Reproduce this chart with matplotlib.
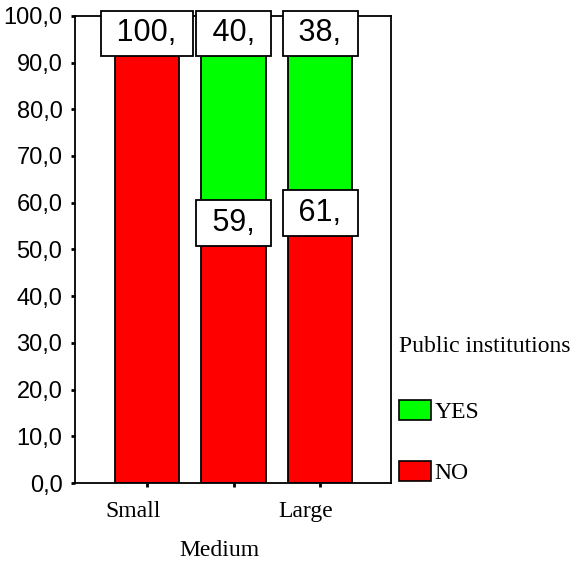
import matplotlib
matplotlib.use("Agg")
import matplotlib.pyplot as plt
import matplotlib.transforms as mtransforms
from matplotlib.patches import Patch
from matplotlib.ticker import FuncFormatter
import numpy as np

categories = ["Small", "Medium", "Large"]
no_pct = [100.0, 59.4, 61.5]
yes_pct = [0.0, 40.6, 38.5]
series_labels = ["YES", "NO"]
legend_title = "Public institutions"

RED = "#ff0000"
GREEN = "#00ff00"
SANS = "Liberation Sans"
SERIF = "Liberation Serif"

fig = plt.figure(figsize=(5.72, 5.65), dpi=100)
ax = fig.add_axes([0.131, 0.145, 0.553, 0.827])

x = np.arange(len(categories))
no = np.array(no_pct)
yes = np.array(yes_pct)
w = 0.74

ax.bar(x, no, width=w, color=RED, edgecolor="black", linewidth=1.3, zorder=2)
ax.bar(x, yes, width=w, bottom=no, color=GREEN, edgecolor="black", linewidth=1.3, zorder=2)

ax.set_xlim(-0.83, 2.82)
ax.set_ylim(0, 100)


# value boxes, SPSS style (truncated labels)
def box_label(xv, top, val):
    ax.annotate(f" {int(val)}, ", xy=(xv, top), xytext=(0, -12.5), textcoords="offset points",
                ha="center", va="center", fontsize=22, family=SANS, zorder=5,
                bbox=dict(boxstyle="square,pad=0.25", fc="white", ec="black", lw=1.3),
                annotation_clip=False)


for i in range(len(categories)):
    box_label(x[i], no[i], no[i])
    if yes[i] > 0:
        box_label(x[i], no[i] + yes[i], yes[i])

ax.set_yticks(np.arange(0, 101, 10))
ax.yaxis.set_major_formatter(FuncFormatter(lambda v, p: f"{v:.1f}".replace(".", ",")))
for lab in ax.get_yticklabels():
    lab.set_fontfamily(SANS)
    lab.set_fontsize(17)

ax.set_xticks([x[0], x[2]])
ax.set_xticklabels([categories[0], categories[2]], fontsize=17, family=SERIF)
ax.set_xticks([x[1]], minor=True)
ax.set_xticklabels([categories[1]], minor=True, fontsize=17, family=SERIF)
ax.tick_params(axis="x", which="major", length=3, width=2, pad=10)
ax.tick_params(axis="x", which="minor", length=3, width=2, pad=38)
ax.tick_params(axis="y", length=3, width=2, pad=6)

shift = mtransforms.ScaledTranslation(-14 / 100, 0, fig.dpi_scale_trans)
for lab in ax.get_xticklabels() + ax.get_xticklabels(minor=True):
    lab.set_transform(lab.get_transform() + shift)

for s in ax.spines.values():
    s.set_linewidth(1.3)

handles = [Patch(facecolor=GREEN, edgecolor="black", lw=1.2),
           Patch(facecolor=RED, edgecolor="black", lw=1.2)]
leg = fig.legend(handles, series_labels, loc="upper left", bbox_to_anchor=(0.697, 0.405),
                 frameon=False, prop={"family": SERIF, "size": 17},
                 title=legend_title, title_fontproperties={"family": SERIF, "size": 17},
                 handlelength=1.36, handleheight=0.93, handletextpad=0.15,
                 labelspacing=1.6, borderaxespad=0, borderpad=0)
leg._legend_box.align = "left"
leg._legend_box.sep = 31

fig.savefig("out.png", dpi=100)
